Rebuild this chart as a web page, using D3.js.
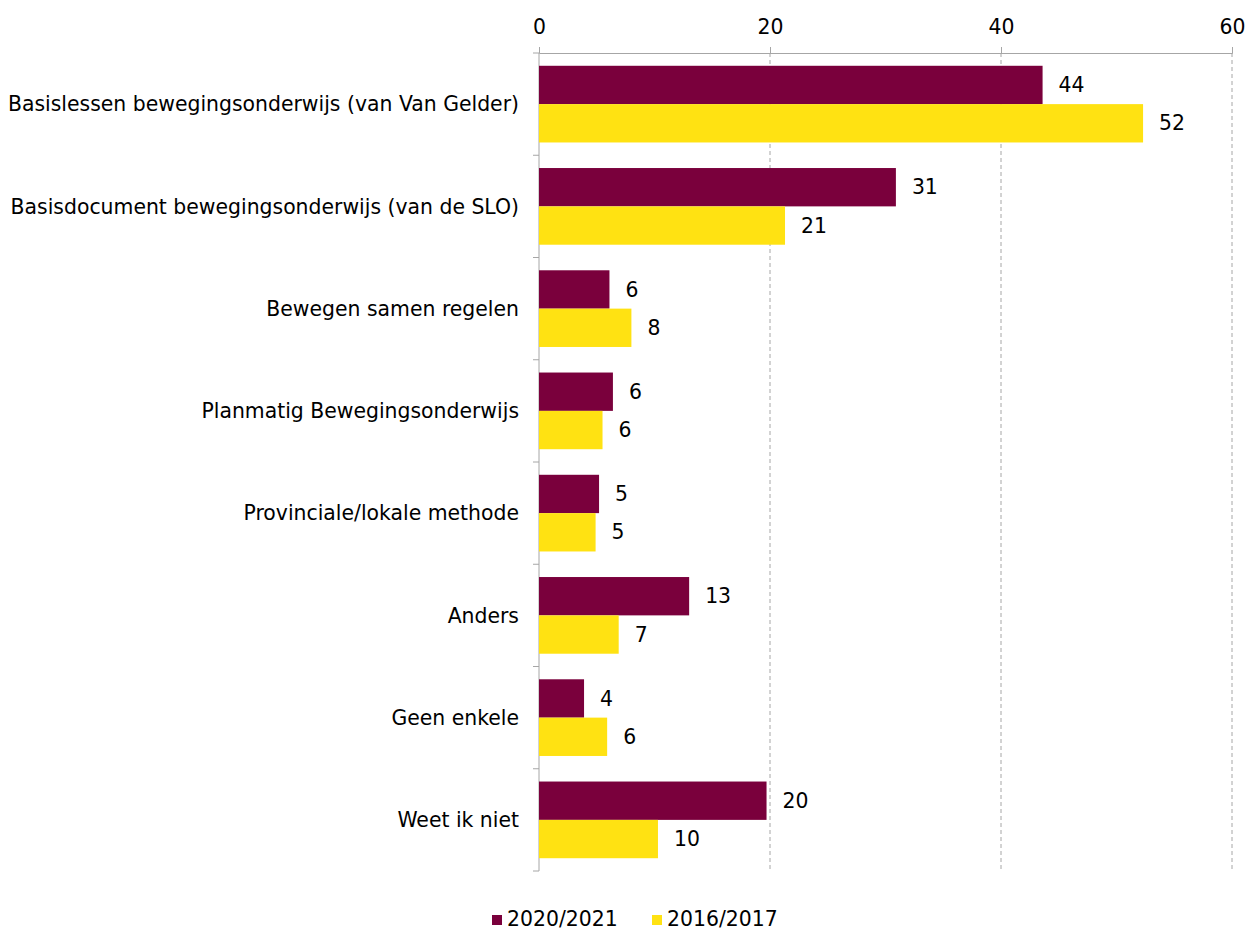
<!DOCTYPE html>
<meta charset="utf-8">
<style>
body { margin: 0; background: #fff; }
text { font-family: "DejaVu Sans", sans-serif; fill: #000; }
</style>
<svg width="1247" height="930"></svg>
<script src="https://d3js.org/d3.v7.min.js"></script>
<script>

var categories = [
  "Basislessen bewegingsonderwijs (van Van Gelder)",
  "Basisdocument bewegingsonderwijs (van de SLO)",
  "Bewegen samen regelen",
  "Planmatig Bewegingsonderwijs",
  "Provinciale/lokale methode",
  "Anders",
  "Geen enkele",
  "Weet ik niet"
]
var series = ["2020/2021", "2016/2017"]
var colors = ["#7a003c", "#ffe212"]
var values2020 = [43.6, 30.9, 6.1, 6.4, 5.2, 13.0, 3.9, 19.7]
var values2016 = [52.3, 21.3, 8.0, 5.5, 4.9, 6.9, 5.9, 10.3]
var xTicks = [0, 20, 40, 60]

var svg = d3.select("svg")
var fs = "20.4px"

var x = d3.scaleLinear().domain([0, 60]).range([539, 1232])
var y = d3.scaleBand().domain(categories).range([53, 871]).paddingInner(0.25).paddingOuter(0.125)
var ySub = d3.scaleBand().domain(series).range([0, y.bandwidth()])

// gridlines
svg.append("g").selectAll("line").data(xTicks.slice(1)).join("line")
  .attr("x1", function(d){ return x(d) }).attr("x2", function(d){ return x(d) })
  .attr("y1", 53).attr("y2", 871)
  .attr("stroke", "#a6a6a6").attr("stroke-dasharray", "4,3")

// top axis
var xAxis = svg.append("g").attr("transform", "translate(0,53)")
  .call(d3.axisTop(x).tickValues(xTicks).tickSize(6).tickPadding(13))
xAxis.select(".domain").attr("stroke", "#a6a6a6")
xAxis.selectAll(".tick line").attr("stroke", "#a6a6a6")
xAxis.selectAll("text").style("font-size", fs).attr("fill", "#000")

// left axis line and separators
svg.append("line").attr("x1", 539).attr("x2", 539).attr("y1", 53).attr("y2", 871).attr("stroke", "#a6a6a6")
var seps = d3.range(categories.length + 1).map(function(i){ return 53 + i * y.step() })
svg.append("g").selectAll("line").data(seps).join("line")
  .attr("x1", 533).attr("x2", 539)
  .attr("y1", function(d){ return d }).attr("y2", function(d){ return d })
  .attr("stroke", "#a6a6a6")

// category labels
svg.append("g").selectAll("text").data(categories).join("text")
  .attr("x", 519)
  .attr("y", function(d){ return y(d) + y.bandwidth() / 2 })
  .attr("dy", "0.35em")
  .attr("text-anchor", "end")
  .style("font-size", fs)
  .text(function(d){ return d })

var data = []
categories.forEach(function(c, i){
  data.push({cat: c, s: series[0], v: values2020[i], col: colors[0]})
  data.push({cat: c, s: series[1], v: values2016[i], col: colors[1]})
})

svg.append("g").selectAll("rect").data(data).join("rect")
  .attr("x", x(0))
  .attr("y", function(d){ return y(d.cat) + ySub(d.s) })
  .attr("width", function(d){ return x(d.v) - x(0) })
  .attr("height", ySub.bandwidth())
  .attr("fill", function(d){ return d.col })

svg.append("g").selectAll("text").data(data).join("text")
  .attr("x", function(d){ return x(d.v) + 16 })
  .attr("y", function(d){ return y(d.cat) + ySub(d.s) + ySub.bandwidth() / 2 })
  .attr("dy", "0.35em")
  .style("font-size", fs)
  .text(function(d){ return d3.format(".0f")(d.v) })

// legend
var legend = svg.append("g").attr("transform", "translate(0,926)")
var legX = [492, 652]
series.forEach(function(s, i){
  legend.append("rect").attr("x", legX[i]).attr("y", -11).attr("width", 10).attr("height", 10).attr("fill", colors[i])
  legend.append("text").attr("x", legX[i] + 15).attr("y", 0).style("font-size", fs).text(s)
})

</script>
